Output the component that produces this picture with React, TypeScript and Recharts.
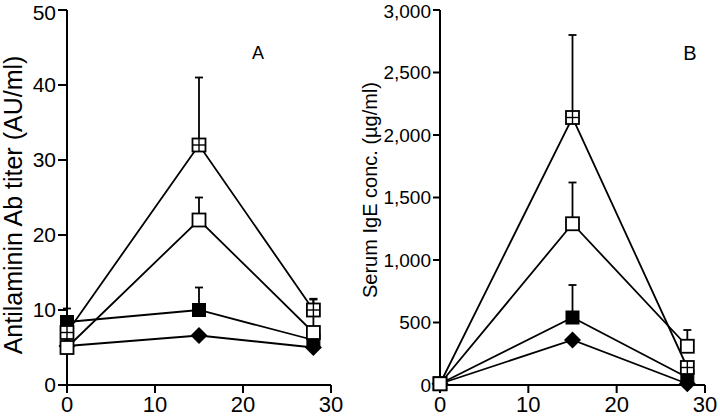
import React from 'react';
import { LineChart, Line, XAxis, YAxis, ErrorBar } from 'recharts';

const days = [0, 15, 28];
const xTicks = [0, 10, 20, 30];

// panel A - antilaminin Ab titer (AU/ml)
const titerCrossSquare = [7, 32, 10];
const titerCrossSquareErr = [0, 9, 1.5];
const titerOpenSquare = [5, 22, 7];
const titerOpenSquareErr = [0, 3, 4.4];
const titerFilledSquare = [8.4, 10, 6];
const titerFilledSquareErr = [1.8, 3, 0];
const titerDiamond = [5.2, 6.6, 5];
const titerTicks = [0, 10, 20, 30, 40, 50];

// panel B - serum IgE (µg/ml)
const igeCrossSquare = [10, 2140, 140];
const igeCrossSquareErr = [0, 660, 0];
const igeOpenSquare = [10, 1290, 310];
const igeOpenSquareErr = [0, 330, 130];
const igeFilledSquare = [10, 540, 60];
const igeFilledSquareErr = [0, 260, 0];
const igeDiamond = [10, 360, 10];
const igeTicks = [0, 500, 1000, 1500, 2000, 2500, 3000];

const FONT = '"Liberation Sans", Arial, Helvetica, sans-serif';

const buildRows = (
  cross: number[], crossErr: number[],
  open: number[], openErr: number[],
  filled: number[], filledErr: number[],
  diamond: number[]
) =>
  days.map((d, i) => ({
    day: d,
    cross: cross[i],
    crossErr: [0, crossErr[i]],
    open: open[i],
    openErr: [0, openErr[i]],
    filled: filled[i],
    filledErr: [0, filledErr[i]],
    diamond: diamond[i],
  }));

const titerRows = buildRows(
  titerCrossSquare, titerCrossSquareErr,
  titerOpenSquare, titerOpenSquareErr,
  titerFilledSquare, titerFilledSquareErr,
  titerDiamond
);
const igeRows = buildRows(
  igeCrossSquare, igeCrossSquareErr,
  igeOpenSquare, igeOpenSquareErr,
  igeFilledSquare, igeFilledSquareErr,
  igeDiamond
);

const S = 6.5; // half size of square markers
const LW = 1.8;

const openSquareDot = (p: any) => (
  <rect key={`o-${p.index}`} x={p.cx - S} y={p.cy - S} width={2 * S} height={2 * S}
    fill="#fff" stroke="#000" strokeWidth={LW} />
);

const crossSquareDot = (p: any) => (
  <g key={`c-${p.index}`}>
    <rect x={p.cx - S} y={p.cy - S} width={2 * S} height={2 * S} fill="#fff" stroke="#000" strokeWidth={LW} />
    <line x1={p.cx} y1={p.cy - S} x2={p.cx} y2={p.cy + S} stroke="#000" strokeWidth={1.4} />
    <line x1={p.cx - S} y1={p.cy} x2={p.cx + S} y2={p.cy} stroke="#000" strokeWidth={1.4} />
  </g>
);

const filledSquareDot = (p: any) => (
  <rect key={`f-${p.index}`} x={p.cx - S} y={p.cy - S} width={2 * S} height={2 * S}
    fill="#000" stroke="#000" strokeWidth={1} />
);

const diamondDot = (p: any) => (
  <polygon key={`d-${p.index}`}
    points={`${p.cx},${p.cy - 8.5} ${p.cx + 8.5},${p.cy} ${p.cx},${p.cy + 8.5} ${p.cx - 8.5},${p.cy}`}
    fill="#000" />
);

const xTickStyle = { fill: '#000', fontSize: 22, fontFamily: FONT };
const axisLine = { stroke: '#000', strokeWidth: 2 };

const fmtThousands = (v: number) => v.toLocaleString('en-US');

function Panel({ rows, yTicks, yMax, yWidth, right, yTickSize, yTickFont, title, titleX, titleY, titleSize, letter, letterX, letterSize, tickFmt }: any) {
  return (
    <LineChart width={360} height={418} data={rows} margin={{ top: 10, right, bottom: 0, left: 0 }}>
      <XAxis
        dataKey="day"
        type="number"
        domain={[0, 30]}
        ticks={xTicks}
        height={33}
        tick={xTickStyle}
        tickSize={8}
        tickMargin={3}
        axisLine={axisLine}
        tickLine={axisLine}
        label={() => (
          <text x={letterX} y={53} textAnchor="middle" dominantBaseline="central"
            fontSize={letterSize} fontFamily={FONT} fill="#000">{letter}</text>
        )}
      />
      <YAxis
        type="number"
        domain={[0, yMax]}
        ticks={yTicks}
        width={yWidth}
        tick={{ fill: '#000', fontSize: yTickFont, fontFamily: FONT }}
        tickFormatter={tickFmt}
        tickSize={yTickSize}
        tickMargin={2}
        axisLine={axisLine}
        tickLine={axisLine}
        label={() => (
          <text x={titleX} y={titleY} textAnchor="middle" dominantBaseline="central"
            transform={`rotate(-90 ${titleX} ${titleY})`}
            fontSize={titleSize} fontFamily={FONT} fill="#000">{title}</text>
        )}
      />
      <Line dataKey="diamond" stroke="#000" strokeWidth={LW} dot={diamondDot} activeDot={false} isAnimationActive={false} />
      <Line dataKey="filled" stroke="#000" strokeWidth={LW} dot={filledSquareDot} activeDot={false} isAnimationActive={false}>
        <ErrorBar dataKey="filledErr" direction="y" width={4} stroke="#000" strokeWidth={LW} />
      </Line>
      <Line dataKey="cross" stroke="#000" strokeWidth={LW} dot={crossSquareDot} activeDot={false} isAnimationActive={false}>
        <ErrorBar dataKey="crossErr" direction="y" width={4} stroke="#000" strokeWidth={LW} />
      </Line>
      <Line dataKey="open" stroke="#000" strokeWidth={LW} dot={openSquareDot} activeDot={false} isAnimationActive={false}>
        <ErrorBar dataKey="openErr" direction="y" width={4} stroke="#000" strokeWidth={LW} />
      </Line>
    </LineChart>
  );
}

export default function App() {
  return (
    <div style={{ position: 'absolute', left: 0, top: 0, width: 720, height: 418, background: '#fff' }}>
      <div style={{ position: 'absolute', left: 0, top: 0 }}>
        <Panel rows={titerRows} yTicks={titerTicks} yMax={50} yWidth={67} right={29}
          yTickSize={9} yTickFont={21}
          title="Antilaminin Ab titer (AU/ml)" titleX={13} titleY={205} titleSize={25}
          letter="A" letterX={258} letterSize={18} />
      </div>
      <div style={{ position: 'absolute', left: 360, top: 0 }}>
        <Panel rows={igeRows} yTicks={igeTicks} yMax={3000} yWidth={80} right={15}
          yTickSize={7} yTickFont={19}
          title="Serum IgE conc. (µg/ml)" titleX={10} titleY={190} titleSize={20}
          letter="B" letterX={330} letterSize={20} tickFmt={fmtThousands} />
      </div>
    </div>
  );
}
